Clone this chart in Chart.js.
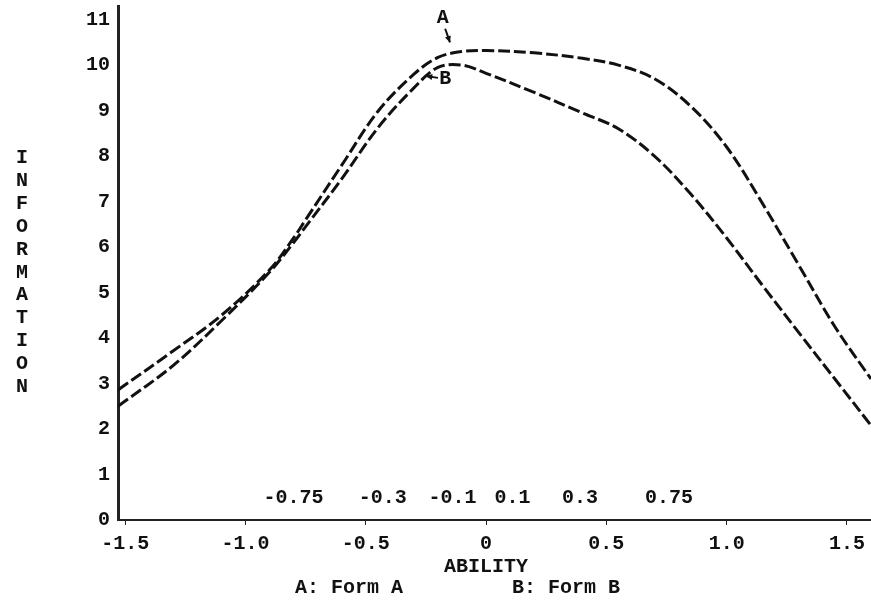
<!DOCTYPE html>
<html>
<head>
<meta charset="utf-8">
<script src="https://cdn.jsdelivr.net/npm/chart.js@4/dist/chart.umd.min.js"></script>
<style>
  html, body { margin: 0; padding: 0; background: #fff; }
  canvas { display: block; }
</style>
</head>
<body>
<canvas id="infoChart" width="871" height="608"></canvas>
<script>
// ability points where the two information curves were read
const ability   = [-1.53, -1.3, -1.1, -0.9, -0.8, -0.75, -0.6, -0.45, -0.3, -0.2, -0.1, 0, 0.2, 0.4, 0.55, 0.7, 0.85, 1.0, 1.15, 1.3, 1.45, 1.6];
const infoFormA = [2.86, 3.72, 4.5, 5.5, 6.2, 6.6, 7.8, 8.98, 9.8, 10.17, 10.3, 10.32, 10.27, 10.15, 10.0, 9.7, 9.1, 8.2, 6.95, 5.6, 4.25, 3.1];
const infoFormB = [2.5, 3.4, 4.38, 5.45, 6.1, 6.45, 7.5, 8.62, 9.5, 9.95, 10.0, 9.82, 9.4, 8.95, 8.6, 8.0, 7.17, 6.2, 5.15, 4.12, 3.1, 2.08];

const xTicks = [-1.5, -1.0, -0.5, 0, 0.5, 1.0, 1.5];
const xTickLabels = ['-1.5', '-1.0', '-0.5', '0', '0.5', '1.0', '1.5'];
const yTicks = [0, 1, 2, 3, 4, 5, 6, 7, 8, 9, 10, 11];

// cut-score row printed just above the axis
const cutLabels = ['-0.75', '-0.3', '-0.1', '0.1', '0.3', '0.75'];
const cutPos = [-0.8, -0.43, -0.14, 0.11, 0.39, 0.76];

const FONT = '"Liberation Mono", "DejaVu Sans Mono", monospace';
const INK = '#111';

function toPoints(xs, ys) {
    return xs.map((v, i) => ({ x: v, y: ys[i] }));
}

function arrow(ctx, x1, y1, x2, y2) {
    const a = Math.atan2(y2 - y1, x2 - x1);
    ctx.beginPath();
    ctx.moveTo(x1, y1);
    ctx.lineTo(x2, y2);
    ctx.stroke();
    ctx.beginPath();
    ctx.moveTo(x2, y2);
    ctx.lineTo(x2 - 7 * Math.cos(a - 0.45), y2 - 7 * Math.sin(a - 0.45));
    ctx.lineTo(x2 - 7 * Math.cos(a + 0.45), y2 - 7 * Math.sin(a + 0.45));
    ctx.closePath();
    ctx.fill();
}

const textLayer = {
    id: 'textLayer',
    afterDraw(chart) {
        const { ctx, chartArea, scales: { x, y } } = chart;
        ctx.save();
        ctx.fillStyle = INK;
        ctx.strokeStyle = INK;
        ctx.lineWidth = 2;
        ctx.font = 'bold 20px ' + FONT;
        ctx.textAlign = 'center';
        ctx.textBaseline = 'middle';

        cutLabels.forEach((t, i) => {
            ctx.fillText(t, x.getPixelForValue(cutPos[i]), y.getPixelForValue(0.48));
        });

        ctx.fillText('ABILITY', x.getPixelForValue(0), chartArea.bottom + 47);
        ctx.fillText('A: Form A', 349, chartArea.bottom + 68);
        ctx.fillText('B: Form B', 566, chartArea.bottom + 68);

        // vertical axis title, one letter per line
        'INFORMATION'.split('').forEach((ch, i) => {
            ctx.fillText(ch, 22, 158 + i * 22.9);
        });

        // curve tags
        ctx.fillText('A', x.getPixelForValue(-0.18), y.getPixelForValue(11.03));
        arrow(ctx, x.getPixelForValue(-0.17), y.getPixelForValue(10.8), x.getPixelForValue(-0.15), y.getPixelForValue(10.5));
        ctx.fillText('B', x.getPixelForValue(-0.17), y.getPixelForValue(9.7));
        arrow(ctx, x.getPixelForValue(-0.2), y.getPixelForValue(9.72), x.getPixelForValue(-0.25), y.getPixelForValue(9.76));
        ctx.restore();
    }
};

function curve(label, data) {
    return {
        label: label,
        data: data,
        borderColor: INK,
        borderWidth: 3,
        borderDash: [12, 4],
        pointRadius: 0,
        fill: false,
        tension: 0.35
    };
}

new Chart(document.getElementById('infoChart').getContext('2d'), {
    type: 'line',
    data: {
        datasets: [
            curve('Form A', toPoints(ability, infoFormA)),
            curve('Form B', toPoints(ability, infoFormB))
        ]
    },
    options: {
        responsive: false,
        animation: false,
        layout: { padding: { top: 6, right: 0, left: 0, bottom: 0 } },
        plugins: { legend: { display: false }, tooltip: { enabled: false } },
        scales: {
            x: {
                type: 'linear',
                min: -1.53,
                max: 1.6,
                afterFit: s => { s.height = 88; s.paddingLeft = 0; s.paddingRight = 0; },
                afterBuildTicks: s => { s.ticks = xTicks.map(v => ({ value: v })); },
                border: { color: '#222', width: 2 },
                grid: { drawOnChartArea: false, drawTicks: true, tickLength: 5, color: '#222' },
                ticks: {
                    color: INK,
                    padding: 7,
                    maxRotation: 0,
                    font: { family: FONT, size: 20, weight: 'bold' },
                    callback: (v) => xTickLabels[xTicks.indexOf(v)]
                }
            },
            y: {
                min: 0,
                max: 11.3,
                afterFit: s => { s.width = 118; s.paddingTop = 0; s.paddingBottom = 0; },
                afterBuildTicks: s => { s.ticks = yTicks.map(v => ({ value: v })); },
                border: { color: '#222', width: 3 },
                grid: { drawOnChartArea: false, drawTicks: false },
                ticks: {
                    color: INK,
                    padding: 8,
                    font: { family: FONT, size: 20, weight: 'bold' },
                    callback: (v) => String(v)
                }
            }
        }
    },
    plugins: [textLayer]
});
</script>
</body>
</html>
